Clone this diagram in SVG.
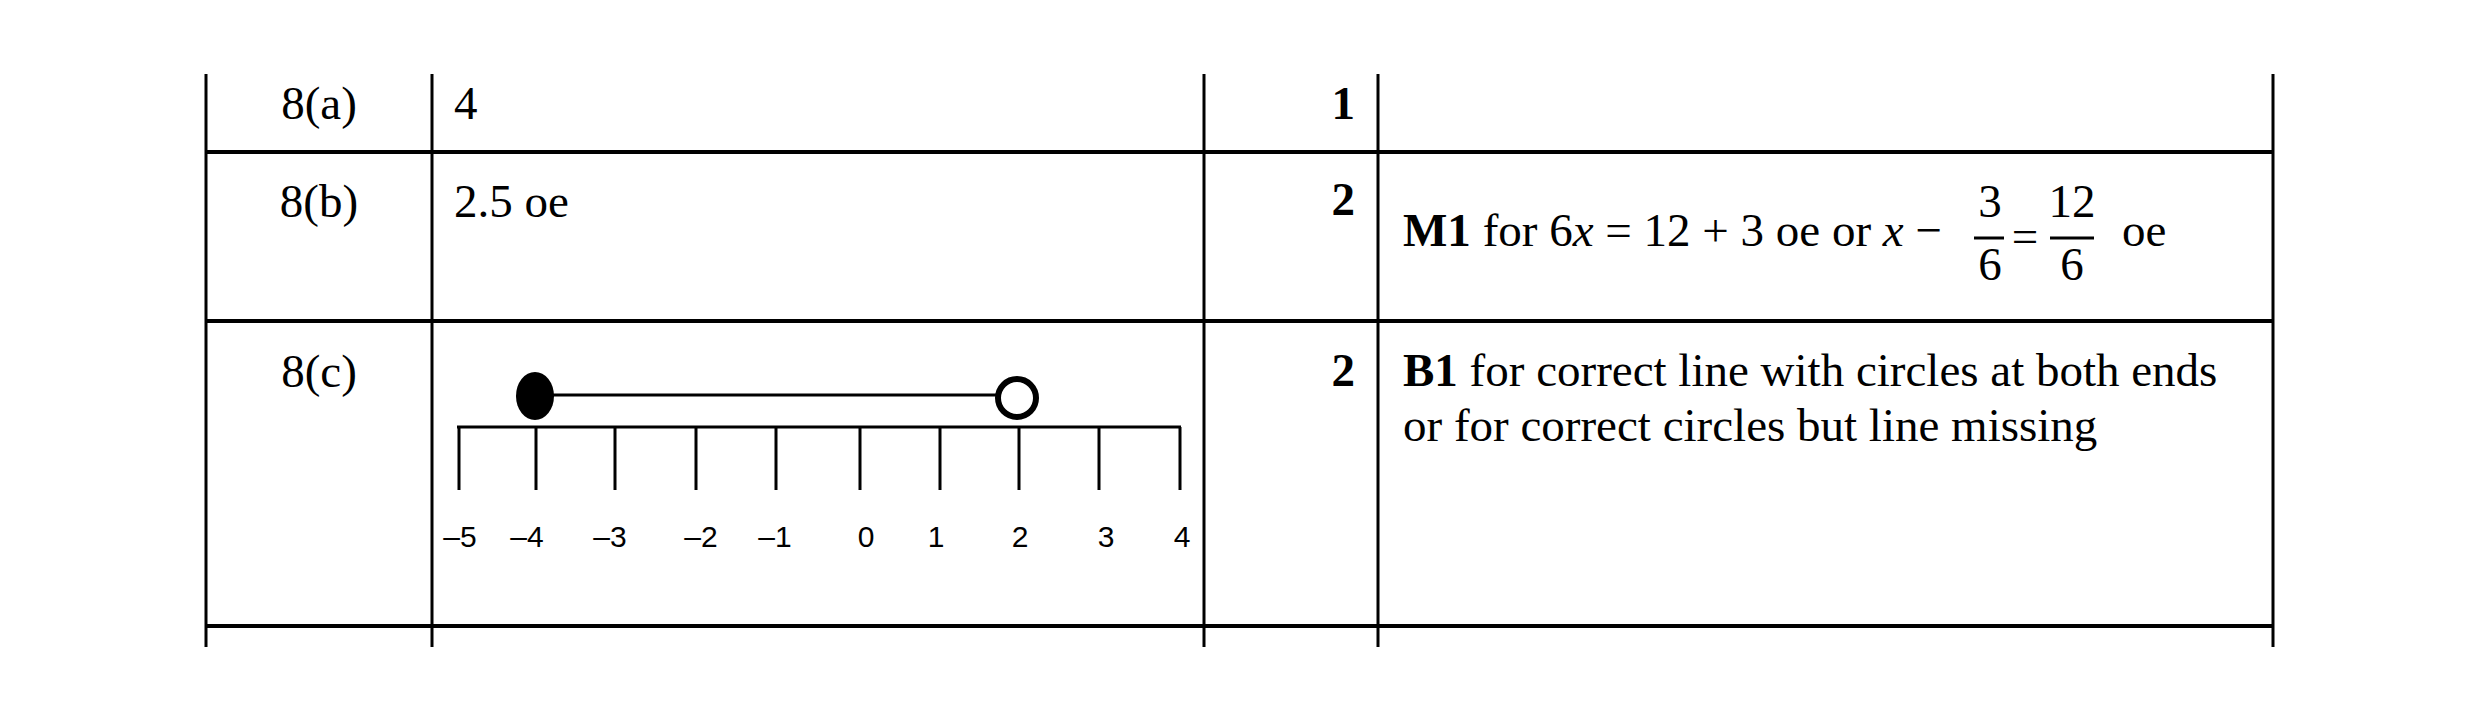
<svg xmlns="http://www.w3.org/2000/svg" width="2480" height="724" viewBox="0 0 2480 724">
<style>
.g{stroke:#000;stroke-width:3;fill:none}
.t{font-family:"Liberation Serif","Times New Roman",serif;font-size:47px;fill:#000}
.b{font-weight:bold}
.n{font-family:"Liberation Sans",Arial,sans-serif;font-size:30px;fill:#000;text-anchor:middle}
</style>
<rect width="2480" height="724" fill="#fff"/>
<g id="grid" class="g">
<line x1="206" y1="74" x2="206" y2="647"/>
<line x1="432" y1="74" x2="432" y2="647"/>
<line x1="1204" y1="74" x2="1204" y2="647"/>
<line x1="1378" y1="74" x2="1378" y2="647"/>
<line x1="2273" y1="74" x2="2273" y2="647"/>
<line x1="206" y1="152" x2="2273" y2="152" stroke-width="4"/>
<line x1="206" y1="321" x2="2273" y2="321" stroke-width="4"/>
<line x1="206" y1="626" x2="2273" y2="626" stroke-width="4"/>
</g>
<g id="rowa">
<text class="t" x="319" y="119" text-anchor="middle">8(a)</text>
<text class="t" x="454" y="119">4</text>
<text class="t b" x="1355" y="119" text-anchor="end">1</text>
</g>
<g id="rowb">
<text class="t" x="319" y="217" text-anchor="middle">8(b)</text>
<text class="t" x="454" y="217">2.5 oe</text>
<text class="t b" x="1355" y="215" text-anchor="end">2</text>
<text class="t" x="1403" y="246"><tspan class="b">M1</tspan> for 6<tspan font-style="italic">x</tspan> = 12 + 3 oe or <tspan font-style="italic">x</tspan> −</text>
<text class="t" x="1990" y="217" text-anchor="middle">3</text>
<text class="t" x="1990" y="280" text-anchor="middle">6</text>
<text class="t" x="2072" y="217" text-anchor="middle">12</text>
<text class="t" x="2072" y="280" text-anchor="middle">6</text>
<line class="g" x1="1974" y1="238" x2="2004" y2="238" stroke-width="2"/>
<line class="g" x1="2050" y1="238" x2="2094" y2="238" stroke-width="2"/>
<text class="t" x="2025" y="252" text-anchor="middle">=</text>
<text class="t" x="2122" y="246">oe</text>
</g>
<g id="rowc">
<text class="t" x="319" y="387" text-anchor="middle">8(c)</text>
<text class="t b" x="1355" y="386" text-anchor="end">2</text>
<text class="t" x="1403" y="386"><tspan class="b">B1</tspan> for correct line with circles at both ends</text>
<text class="t" x="1403" y="441">or for correct circles but line missing</text>
</g>
<g id="numberline">
<g class="g">
<line x1="457" y1="427" x2="1181" y2="427"/>
<path d="M459 427V490M536 427V490M615 427V490M696 427V490M776 427V490M860 427V490M940 427V490M1019 427V490M1099 427V490M1180 427V490"/>
<line x1="550" y1="395" x2="1000" y2="395"/>
</g>
<ellipse cx="535" cy="396" rx="19" ry="24" fill="#000"/>
<circle cx="1017" cy="398" r="19" fill="#fff" stroke="#000" stroke-width="6"/>
<text class="n" x="460" y="547">–5</text>
<text class="n" x="527" y="547">–4</text>
<text class="n" x="610" y="547">–3</text>
<text class="n" x="701" y="547">–2</text>
<text class="n" x="775" y="547">–1</text>
<text class="n" x="866" y="547">0</text>
<text class="n" x="936" y="547">1</text>
<text class="n" x="1020" y="547">2</text>
<text class="n" x="1106" y="547">3</text>
<text class="n" x="1182" y="547">4</text>
</g>
</svg>
